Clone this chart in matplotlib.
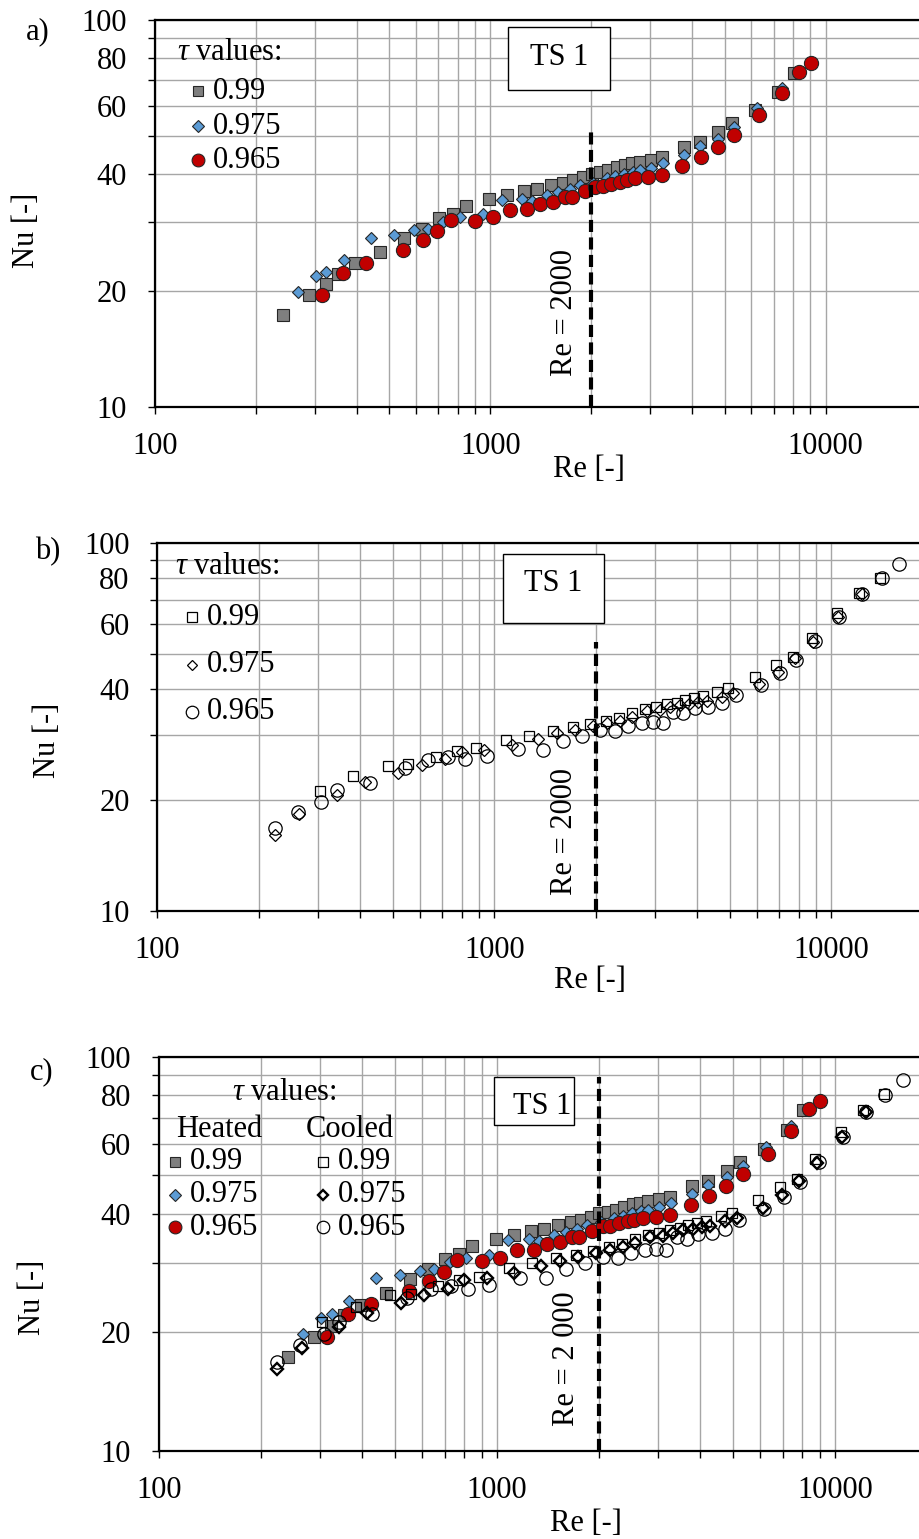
import matplotlib
matplotlib.use("Agg")
import matplotlib.pyplot as plt
from matplotlib.patches import Rectangle
from matplotlib.ticker import FixedLocator, FormatStrFormatter, LogLocator, NullFormatter

plt.rcParams["font.family"] = ["Liberation Serif", "DejaVu Serif"]
plt.rcParams["font.size"] = 22
plt.rcParams["mathtext.fontset"] = "custom"
plt.rcParams["mathtext.it"] = "Liberation Serif:italic"
plt.rcParams["mathtext.rm"] = "Liberation Serif"

# heated runs, tau = 0.99 / 0.975 / 0.965
re_h99 = [241, 287, 323, 352, 396, 469, 553, 624, 704, 773, 845, 993, 1124, 1263, 1375,
          1517, 1651, 1768, 1894, 2006, 2124, 2249, 2382, 2522, 2640, 2796, 3009, 3245,
          3782, 4222, 4787, 5248, 6160, 7228, 8053]
nu_h99 = [17.3, 19.5, 20.8, 22.1, 23.5, 25.2, 27.3, 28.9, 30.7, 31.6, 33.1, 34.4, 35.4, 36.1,
          36.6, 37.4, 38.0, 38.6, 39.3, 40.1, 40.4, 40.9, 41.6, 42.2, 42.6, 43.0, 43.6, 44.2,
          46.9, 48.4, 51.4, 54.1, 58.5, 65.3, 73.1]

re_h975 = [267, 302, 324, 365, 440, 516, 592, 653, 724, 812, 949, 1081, 1240, 1329, 1473,
           1595, 1729, 1851, 2027, 2223, 2354, 2503, 2670, 2796, 3009, 3281, 3782, 4222,
           4787, 5332, 6231, 7397]
nu_h975 = [19.8, 21.8, 22.3, 24.0, 27.4, 27.9, 28.6, 28.9, 30.1, 30.9, 31.5, 34.2, 34.4, 34.1,
           35.3, 35.9, 36.6, 37.4, 38.0, 39.0, 39.5, 40.1, 40.5, 40.9, 41.5, 42.6, 44.8, 47.2,
           49.4, 52.8, 59.1, 66.6]

re_h965 = [314, 363, 425, 550, 631, 695, 764, 900, 1021, 1145, 1284, 1407, 1535, 1670, 1749,
           1916, 2053, 2163, 2290, 2436, 2551, 2701, 2960, 3245, 3738, 4250, 4766, 5332,
           6343, 7397, 8351, 9016]
nu_h965 = [19.5, 22.2, 23.6, 25.5, 27.0, 28.5, 30.5, 30.3, 30.9, 32.3, 32.4, 33.4, 33.9, 34.9,
           34.9, 36.1, 37.1, 37.3, 37.8, 38.2, 38.6, 39.0, 39.3, 39.7, 42.0, 44.3, 47.0, 50.4,
           56.8, 64.9, 73.5, 77.3]

# cooled runs
re_c99 = [304, 382, 483, 556, 671, 773, 882, 1083, 1270, 1497, 1716, 1923, 2145, 2350, 2556,
          2800, 3019, 3248, 3477, 3681, 3914, 4154, 4589, 4948, 5937, 6852, 7714, 8747,
          10420, 12085, 13950]
nu_c99 = [21.2, 23.2, 24.8, 25.0, 26.2, 27.2, 27.7, 29.1, 29.9, 30.9, 31.5, 32.2, 32.9, 33.5,
          34.4, 35.3, 35.7, 36.4, 36.8, 37.4, 37.8, 38.4, 39.4, 40.2, 43.3, 46.6, 49.0, 55.0,
          64.6, 73.1, 80.4]

re_c975 = [224, 264, 341, 413, 519, 609, 714, 800, 934, 1126, 1351, 1531, 1736, 1959, 2164,
           2360, 2556, 2833, 3103, 3322, 3556, 3790, 4030, 4268, 4729, 5119, 6114, 6960,
           7806, 8846, 10490, 12310]
nu_c975 = [16.1, 18.3, 20.65, 22.4, 23.7, 24.9, 25.8, 27.1, 27.4, 28.2, 29.4, 30.4, 31.1, 31.8,
           32.3, 32.9, 33.7, 34.9, 35.1, 35.7, 36.3, 36.5, 37.0, 37.2, 38.2, 39.0, 41.3, 44.6,
           48.5, 53.8, 62.7, 72.6]

re_c965 = [224, 261, 307, 341, 428, 543, 637, 730, 818, 949, 1173, 1398, 1602, 1817, 2058,
           2281, 2498, 2738, 2951, 3161, 3398, 3640, 3939, 4315, 4729, 5213, 6171, 7042,
           7859, 8948, 10560, 12310, 14100, 15920]
nu_c965 = [16.8, 18.6, 19.8, 21.3, 22.2, 24.4, 25.7, 26.2, 25.8, 26.4, 27.5, 27.4, 29.0, 29.9,
           31.0, 30.9, 31.7, 32.4, 32.6, 32.3, 34.8, 34.4, 35.5, 35.8, 36.6, 38.6, 41.1, 44.2,
           48.0, 54.2, 62.7, 72.6, 80.1, 87.5]

tau_labels = ["0.99", "0.975", "0.965"]
y_ticks = [10, 20, 40, 60, 80, 100]
y_minor = [30, 50, 70, 90]
re_trans = 2000

# marker styles
EDGE = "#262626"
h99 = dict(marker="s", ms=8.2, mfc="#7f7f7f", mec=EDGE, mew=0.8)
h975 = dict(marker="D", ms=6.6, mfc="#5b9bd5", mec=EDGE, mew=0.8)
h965 = dict(marker="o", ms=10.2, mfc="#c00000", mec=EDGE, mew=0.8)
c99 = dict(marker="s", ms=7.4, mfc="none", mec="black", mew=0.9)
c975 = dict(marker="D", ms=5.9, mfc="none", mec="black", mew=0.9)
c965 = dict(marker="o", ms=9.6, mfc="none", mec="black", mew=0.9)

W, H = 920, 1539
fig = plt.figure(figsize=(W / 100, H / 100), dpi=100)


def make_axes(left, top, bottom, decade):
    # pixel box -> figure fraction; x axis runs 100..20000
    width = decade * 2.30103
    return fig.add_axes([left / W, 1 - bottom / H, width / W, (bottom - top) / H])


def style_axes(ax):
    ax.set_xscale("log")
    ax.set_yscale("log")
    ax.set_xlim(100, 20000)
    ax.set_ylim(10, 100)
    ax.xaxis.set_major_locator(LogLocator(base=10))
    ax.xaxis.set_minor_locator(LogLocator(base=10, subs=range(2, 10)))
    ax.xaxis.set_major_formatter(FormatStrFormatter("%d"))
    ax.xaxis.set_minor_formatter(NullFormatter())
    ax.yaxis.set_major_locator(FixedLocator(y_ticks))
    ax.yaxis.set_minor_locator(FixedLocator(y_minor))
    ax.yaxis.set_major_formatter(FormatStrFormatter("%d"))
    ax.yaxis.set_minor_formatter(NullFormatter())
    ax.grid(True, which="both", color="#a6a6a6", lw=1.0)
    ax.set_axisbelow(True)
    for s in ("left", "bottom", "top"):
        ax.spines[s].set_linewidth(1.6)
    ax.tick_params(which="both", direction="out", length=5, width=1.0)
    ax.tick_params(axis="x", which="major", pad=13, labelsize=22)
    ax.tick_params(axis="y", which="major", pad=15, labelsize=22)


def series(ax, x, y, st, **kw):
    ax.plot(x, y, linestyle="none", zorder=3, **st, **kw)


def key(ax, x, y, dx, label, st):
    ax.plot([x], [y], transform=ax.transAxes, linestyle="none", clip_on=False, zorder=5, **st)
    ax.text(x + dx, y, label, transform=ax.transAxes, ha="left", va="center", zorder=5)


def ts_box(ax, x0, x1, y0, y1, tx, ty, ha="center"):
    ax.add_patch(Rectangle((x0, y0), x1 - x0, y1 - y0, transform=ax.transAxes,
                           fc="white", ec="black", lw=1.0, zorder=4))
    ax.text(tx, ty, "TS 1", transform=ax.transAxes, ha=ha, va="center", zorder=5)


def transition(ax, ytop, tx, ty, label):
    ax.plot([re_trans, re_trans], [10, ytop], color="black", lw=3.0,
            linestyle=(0, (2.9, 1.3)), zorder=4)
    ax.text(tx, ty, label, rotation=90, ha="center", va="center", zorder=5)


def labels(ax, xl, yl):
    ax.set_xlabel("Re [-]", va="center")
    ax.xaxis.set_label_coords(*xl)
    ax.set_ylabel("Nu [-]", va="center")
    ax.yaxis.set_label_coords(*yl)


# a) heated
ax1 = make_axes(155, 20, 407, 335.3)
style_axes(ax1)
series(ax1, re_h99, nu_h99, h99)
series(ax1, re_h975, nu_h975, h975)
series(ax1, re_h965, nu_h965, h965)
transition(ax1, 51.4, 1659, 17.5, "Re = 2000")
ts_box(ax1, 0.458, 0.590, 0.819, 0.983, 0.5237, 0.902)
ax1.text(0.0285, 0.917, r"$\tau$ values:", transform=ax1.transAxes, ha="left", va="center")
for yk, lab, st in zip([0.8165, 0.726, 0.638], tau_labels,
                       [dict(h99, ms=7.2), dict(h975, ms=6.6), dict(h965, ms=9.2)]):
    key(ax1, 0.0557, yk, 0.0195, lab, st)
labels(ax1, (0.5625, -0.162), (-0.167, 0.457))

# b) cooled
ax2 = make_axes(157.3, 542.7, 911, 337)
style_axes(ax2)
series(ax2, re_c99, nu_c99, c99)
series(ax2, re_c975, nu_c975, c975)
series(ax2, re_c965, nu_c965, c965)
transition(ax2, 53.8, 1621, 16.4, "Re = 2000")
ts_box(ax2, 0.4454, 0.5761, 0.7812, 0.9685, 0.5103, 0.890)
ax2.text(0.0228, 0.935, r"$\tau$ values:", transform=ax2.transAxes, ha="left", va="center")
for yk, lab, st in zip([0.7974, 0.668, 0.541], tau_labels,
                       [dict(c99, ms=6.8), dict(c975, ms=5.6), dict(c965, ms=9)]):
    key(ax2, 0.0444, yk, 0.0197, lab, st)
labels(ax2, (0.558, -0.19), (-0.141, 0.464))

# c) heated and cooled together
c975b = dict(c975, mew=1.7)
ax3 = make_axes(159, 1056.7, 1451, 338)
style_axes(ax3)
series(ax3, re_h99, nu_h99, h99)
series(ax3, re_h975, nu_h975, h975)
series(ax3, re_h965, nu_h965, h965)
series(ax3, re_c99, nu_c99, c99)
series(ax3, re_c975, nu_c975, c975b)
series(ax3, re_c965, nu_c965, c965)
transition(ax3, 89, 1611, 17.1, "Re = 2 000")
ts_box(ax3, 0.4308, 0.5336, 0.8268, 0.9478, 0.4552, 0.8732, ha="left")
ax3.text(0.0935, 0.908, r"$\tau$ values:", transform=ax3.transAxes, ha="left", va="center")
ax3.text(0.0215, 0.8166, "Heated", transform=ax3.transAxes, ha="left", va="center")
ax3.text(0.1886, 0.8166, "Cooled", transform=ax3.transAxes, ha="left", va="center")
rows = [0.7337, 0.6493, 0.5673]
for yk, lab, st in zip(rows, tau_labels,
                       [dict(h99, ms=7.2), dict(h975, ms=6.6), dict(h965, ms=9.2)]):
    key(ax3, 0.0206, yk, 0.0193, lab, st)
for yk, lab, st in zip(rows, tau_labels,
                       [dict(c99, ms=6.8), dict(c975b, ms=5.6), dict(c965, ms=9)]):
    key(ax3, 0.2113, yk, 0.0193, lab, st)
labels(ax3, (0.549, -0.183), (-0.163, 0.39))

fig.text(26 / W, 1 - 32 / H, "a)", ha="left", va="center")
fig.text(35 / W, 1 - 552 / H, "b)", ha="left", va="center")
fig.text(30 / W, 1 - 1072 / H, "c)", ha="left", va="center")

fig.savefig("out.png", dpi=100)
